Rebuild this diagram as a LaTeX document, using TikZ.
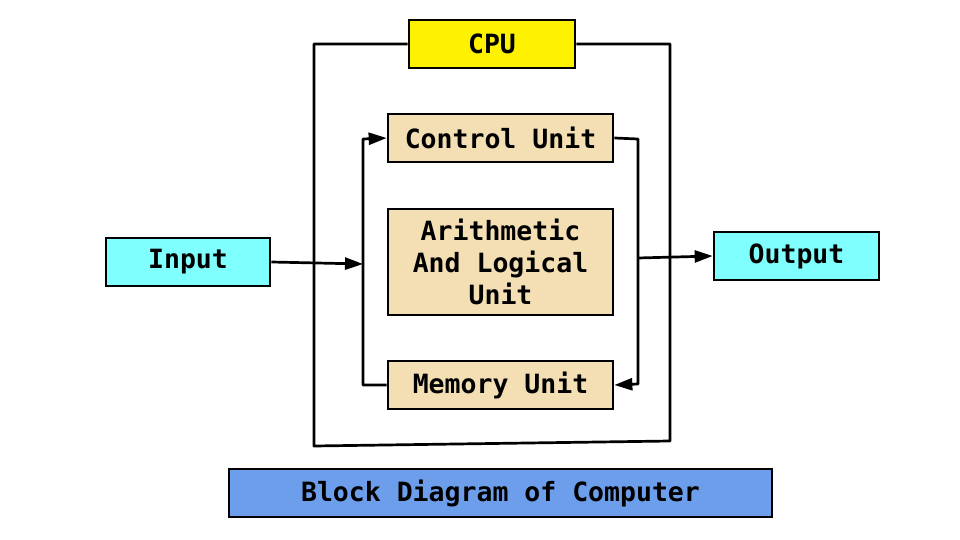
\documentclass[tikz,border=0pt]{standalone}
\usepackage{fontspec}
\setmainfont{DejaVu Sans Mono}
\usetikzlibrary{positioning}
\usetikzlibrary{arrows.meta}
\definecolor{cpuyellow}{RGB}{255,242,0}
\definecolor{unitbeige}{RGB}{243,223,179}
\definecolor{iocyan}{RGB}{128,255,255}
\definecolor{titleblue}{RGB}{109,158,235}
\tikzset{
  blk/.style={draw, line width=2.7pt, inner sep=0pt, align=center,
              font=\fontsize{26.5}{32}\selectfont\bfseries},
  wire/.style={line width=2.7pt},
  arr/.style={wire, -{Triangle[length=18pt,width=12pt]}}
}

\begin{document}
\begin{tikzpicture}[x=1pt,y=-1pt]
  \useasboundingbox (0,0) rectangle (960,540);

  \node [blk, fill=cpuyellow, minimum width=166pt, minimum height=48pt] (cpu) at (492,44) {CPU};
  \node [blk, fill=unitbeige, minimum width=225pt, minimum height=48pt] (ctrl) at (500.5,138) {Control Unit};
  \node [blk, fill=unitbeige, minimum width=225pt, minimum height=106pt] (alu) at (500.5,262) {Arithmetic\\And Logical\\Unit};
  \node [blk, fill=unitbeige, minimum width=225pt, minimum height=48pt] (mem) at (500.5,385) {Memory Unit};
  \node [blk, fill=iocyan, minimum width=164pt, minimum height=48pt] (inp) at (188,262) {Input};
  \node [blk, fill=iocyan, minimum width=165pt, minimum height=48pt] (outp) at (796.5,256) {Output};
  \node [blk, fill=titleblue, minimum width=543pt, minimum height=48pt] (title) at (500.5,493) {Block Diagram of Computer};

  % outer CPU frame
  \draw [wire, line join=round] (cpu.west) -- (314,44) -- (314,446) -- (670,441) -- (670,44) -- (cpu.east);

  % internal bus
  \coordinate (lbus) at (363,264);
  \coordinate (rbus) at (638,258);
  \draw [arr, line join=round] (mem.west) -- (363,385) -- (363,139) -- (ctrl.west);
  \draw [arr, line join=round] (ctrl.east) -- (638,139) -- (638,384) -- (mem.east);

  \draw [arr] (inp.east) -- (lbus);
  \draw [arr] (rbus) -- (outp.west);
\end{tikzpicture}
\end{document}
